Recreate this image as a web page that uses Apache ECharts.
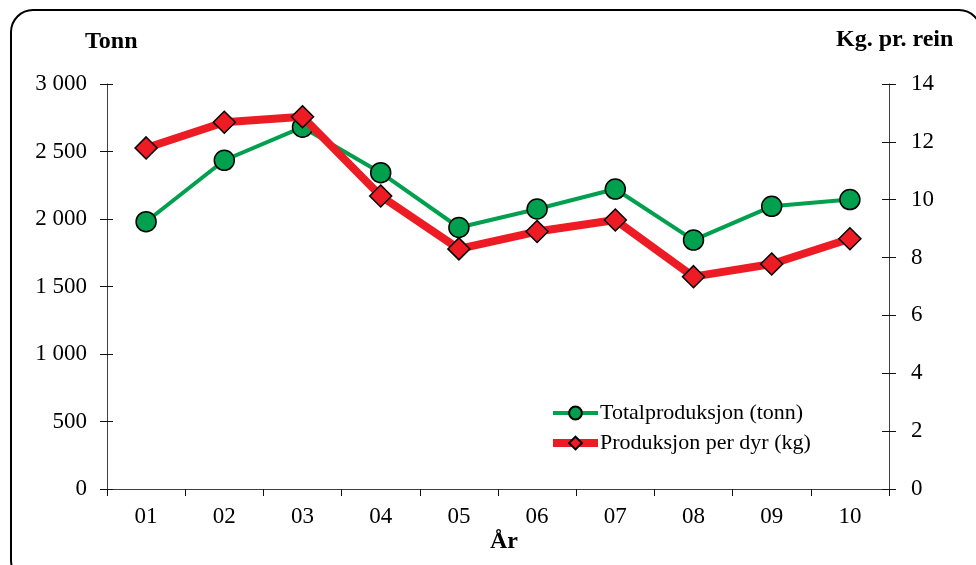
<!DOCTYPE html>
<html>
<head>
<meta charset="utf-8">
<script src="https://cdn.jsdelivr.net/npm/echarts@6/dist/echarts.min.js"></script>
<style>html,body{margin:0;padding:0;background:#fff}#c{width:976px;height:565px}</style>
</head>
<body>
<div id="c"></div>
<script>
const categories = ['01','02','03','04','05','06','07','08','09','10'];
const totalTonn = [1980, 2435, 2680, 2343, 1937, 2074, 2222, 1844, 2094, 2144];
const kgPerDyr = [11.79, 12.68, 12.87, 10.13, 8.30, 8.90, 9.30, 7.34, 7.78, 8.65];
const leftTicks = {min: 0, max: 3000, interval: 500};
const rightTicks = {min: 0, max: 14, interval: 2};
const seriesNames = ['Totalproduksjon (tonn)', 'Produksjon per dyr (kg)'];

const FONT = '"Liberation Serif", "Times New Roman", serif';
const axisCol = '#404040';
const chart = echarts.init(document.getElementById('c'), null, {renderer: 'canvas'});

function fmtThousands(v){
  return String(v).replace(/\B(?=(\d{3})+(?!\d))/g, ' ');
}

const baseY = (opts) => Object.assign({
  type: 'value',
  splitLine: {show: false},
  axisLine: {show: true, lineStyle: {color: axisCol, width: 1}},
  axisTick: {show: true, length: 7, lineStyle: {color: '#111', width: 1}},
}, opts);

chart.setOption({
  animation: false,
  backgroundColor: '#fff',
  textStyle: {fontFamily: FONT},
  grid: {left: 107, right: 87, top: 84, bottom: 76, containLabel: false},
  graphic: [
    {type: 'rect', shape: {x: 11, y: 10, width: 970, height: 572, r: 22}, style: {fill: 'none', stroke: '#000', lineWidth: 2}, z: 100},
    {type: 'text', left: 85, top: 30, style: {text: 'Tonn', font: 'bold 24px ' + FONT, fill: '#000'}},
    {type: 'text', left: 836, top: 28, style: {text: 'Kg. pr. rein', font: 'bold 24px ' + FONT, fill: '#000'}},
    {type: 'text', left: 490, top: 530, style: {text: 'År', font: 'bold 24px ' + FONT, fill: '#000'}}
  ],
  legend: {
    orient: 'vertical',
    left: 549, top: 402, padding: 0,
    itemWidth: 45, itemHeight: 16, itemGap: 8,
    textStyle: {fontFamily: FONT, fontSize: 22, color: '#000', padding: [0,0,0,-3]},
    data: [
      {name: seriesNames[0], lineStyle: {width: 4}},
      {name: seriesNames[1], lineStyle: {width: 8}}
    ]
  },
  xAxis: [{
    type: 'category', data: categories, boundaryGap: true,
    axisLine: {show: true, onZero: false, lineStyle: {color: axisCol, width: 1}},
    axisTick: {show: true, length: 7, interval: 0, lineStyle: {color: '#111'}},
    axisLabel: {fontFamily: FONT, fontSize: 23, color: '#000', margin: 16, interval: 0},
    splitLine: {show: false}
  }],
  yAxis: [
    baseY(Object.assign({position: 'left',
      axisLabel: {fontFamily: FONT, fontSize: 23, color: '#000', margin: 20, formatter: fmtThousands}}, leftTicks)),
    baseY(Object.assign({position: 'right',
      axisLabel: {fontFamily: FONT, fontSize: 23, color: '#000', margin: 22}}, rightTicks)),
    baseY(Object.assign({position: 'left', axisLine: {show: false},
      axisTick: {show: true, inside: true, length: 6, lineStyle: {color: '#111'}},
      axisLabel: {show: false}}, leftTicks)),
    baseY(Object.assign({position: 'right', axisLine: {show: false},
      axisTick: {show: true, inside: true, length: 7, lineStyle: {color: '#111'}},
      axisLabel: {show: false}}, rightTicks))
  ],
  series: [
    {
      name: seriesNames[0], type: 'line', yAxisIndex: 0, data: totalTonn,
      symbol: 'circle', symbolSize: 20, z: 2,
      lineStyle: {color: '#00a04f', width: 4},
      itemStyle: {color: '#00a04f', borderColor: '#000', borderWidth: 1.5}
    },
    {
      name: seriesNames[1], type: 'line', yAxisIndex: 1, data: kgPerDyr,
      symbol: 'diamond', symbolSize: [22, 22], z: 3,
      lineStyle: {color: '#ed1c24', width: 8},
      itemStyle: {color: '#ed1c24', borderColor: '#000', borderWidth: 1.5}
    }
  ]
});
</script>
</body>
</html>
